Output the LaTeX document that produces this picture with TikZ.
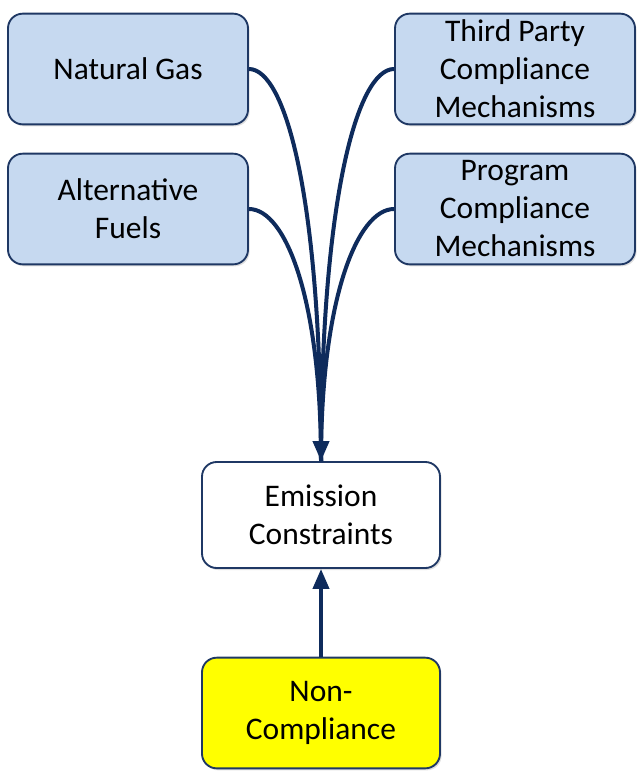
\documentclass[tikz,border=0pt]{standalone}
\usepackage{fontspec}
\setmainfont{Carlito}
\usepackage{xcolor}
\usepackage{tikz}
\usetikzlibrary{arrows.meta, positioning, shadows}
\definecolor{navy}{HTML}{0E2B5C}
\definecolor{boxblue}{HTML}{C6D9F0}
\definecolor{boxline}{HTML}{1F3864}
\definecolor{boxyellow}{HTML}{FFFF00}

\begin{document}
\begin{tikzpicture}[
    x=0.75pt, y=-0.75pt,
    box/.style={draw=boxline, line width=1.4pt, rounded corners=11pt, fill=boxblue, minimum width=180pt, minimum height=83pt, align=center, font=\fontsize{23.6}{28.5}\selectfont, inner sep=0pt, drop shadow={opacity=0.25, shadow xshift=1.2pt, shadow yshift=-1.5pt}},
    flow/.style={draw=navy, line width=3pt},
    >={Triangle[length=15pt, width=12pt]}]
  \useasboundingbox (0,0) rectangle (641,772);
  \node[box] (ng) at (128,69) {Natural Gas};
  \node[box] (tp) at (515,69) {Third Party\\Compliance\\Mechanisms};
  \node[box] (af) at (128,209) {Alternative\\Fuels};
  \node[box] (pc) at (515,209) {Program\\Compliance\\Mechanisms};
  \node[box, fill=white, minimum width=178.5pt, minimum height=79.5pt] (ec) at (321,515) {Emission\\Constraints};
  \node[box, fill=boxyellow, minimum width=178.5pt] (nc) at (321,713) {Non-\\Compliance};
  % converging flows
  \draw[flow] (ng.east) .. controls +(37,0) and +(0,-261) .. (ec.north);
  \draw[flow] (af.east) .. controls +(37,0) and +(0,-161) .. (ec.north);
  \draw[flow] (tp.west) .. controls +(-37,0) and +(0,-261) .. (ec.north);
  \draw[flow] (pc.west) .. controls +(-37,0) and +(0,-161) .. (ec.north);
  \draw[flow, ->] (ec.north) ++(0,-60) -- (ec.north);
  \draw[flow, ->] (nc.north) -- (ec.south);
\end{tikzpicture}
\end{document}
